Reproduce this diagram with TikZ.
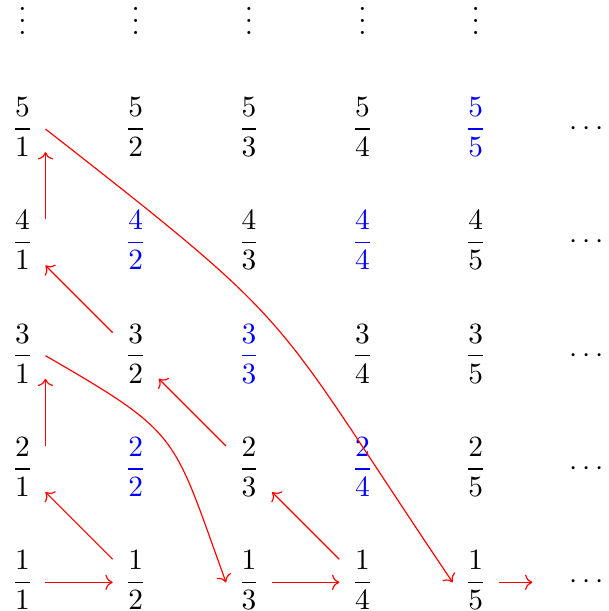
\documentclass[tikz,border=0pt]{standalone}
\usepackage{amssymb,amsmath}
\usepackage[svgnames]{xcolor}
\usetikzlibrary{positioning}
\usetikzlibrary{arrows.meta}
\tikzset{frac/.style = {inner sep=0, minimum width=15.3pt,
                        text height=10.15pt, text depth=5.15pt}}
\tikzset{dup/.style = {frac, text=blue}}
\tikzset{walk/.style = {->, red}}
\begin{document}
\begin{tikzpicture}[x=1.356cm, y=1.356cm]
      \useasboundingbox (-0.198,-0.253) rectangle (5.172,5.139);
      % row 1
      \node[frac] (f11) at (0,0) {$\dfrac{1}{1}$};
      \node[frac] (f12) at (1,0) {$\dfrac{1}{2}$};
      \node[frac] (f13) at (2,0) {$\dfrac{1}{3}$};
      \node[frac] (f14) at (3,0) {$\dfrac{1}{4}$};
      \node[frac] (f15) at (4,0) {$\dfrac{1}{5}$};
      \node (h1) at (5,0) {$\cdots$};
      % row 2
      \node[frac] (f21) at (0,1) {$\dfrac{2}{1}$};
      \node[dup] (f22) at (1,1) {$\dfrac{2}{2}$};
      \node[frac] (f23) at (2,1) {$\dfrac{2}{3}$};
      \node[dup] (f24) at (3,1) {$\dfrac{2}{4}$};
      \node[frac] (f25) at (4,1) {$\dfrac{2}{5}$};
      \node (h2) at (5,1) {$\cdots$};
      % row 3
      \node[frac] (f31) at (0,2) {$\dfrac{3}{1}$};
      \node[frac] (f32) at (1,2) {$\dfrac{3}{2}$};
      \node[dup] (f33) at (2,2) {$\dfrac{3}{3}$};
      \node[frac] (f34) at (3,2) {$\dfrac{3}{4}$};
      \node[frac] (f35) at (4,2) {$\dfrac{3}{5}$};
      \node (h3) at (5,2) {$\cdots$};
      % row 4
      \node[frac] (f41) at (0,3) {$\dfrac{4}{1}$};
      \node[dup] (f42) at (1,3) {$\dfrac{4}{2}$};
      \node[frac] (f43) at (2,3) {$\dfrac{4}{3}$};
      \node[dup] (f44) at (3,3) {$\dfrac{4}{4}$};
      \node[frac] (f45) at (4,3) {$\dfrac{4}{5}$};
      \node (h4) at (5,3) {$\cdots$};
      % row 5
      \node[frac] (f51) at (0,4) {$\dfrac{5}{1}$};
      \node[frac] (f52) at (1,4) {$\dfrac{5}{2}$};
      \node[frac] (f53) at (2,4) {$\dfrac{5}{3}$};
      \node[frac] (f54) at (3,4) {$\dfrac{5}{4}$};
      \node[dup] (f55) at (4,4) {$\dfrac{5}{5}$};
      \node (h5) at (5,4) {$\cdots$};
      % dots on top
      \node (v1) at (0,5.03) {$\vdots$};
      \node (v2) at (1,5.03) {$\vdots$};
      \node (v3) at (2,5.03) {$\vdots$};
      \node (v4) at (3,5.03) {$\vdots$};
      \node (v5) at (4,5.03) {$\vdots$};
      \coordinate (next) at (4.5,0);
      % the walk
      \draw[walk] (f11) -- (f12);
      \draw[walk] (f12) -- (f21);
      \draw[walk] (f21.north east) -- (f31.south east);
      \draw[walk] (f31.east) to[out=-30,in=110,looseness=1.4] (f13.west);
      \draw[walk] (f13) -- (f14);
      \draw[walk] (f14) -- (f23);
      \draw[walk] (f23) -- (f32);
      \draw[walk] (f32) -- (f41);
      \draw[walk] (f41.north east) -- (f51.south east);
      \draw[walk] (f51.east) to[out=-38,in=124,looseness=1.4] (f15.west);
      \draw[walk] (f15) -- (next);
    \end{tikzpicture}
\end{document}
